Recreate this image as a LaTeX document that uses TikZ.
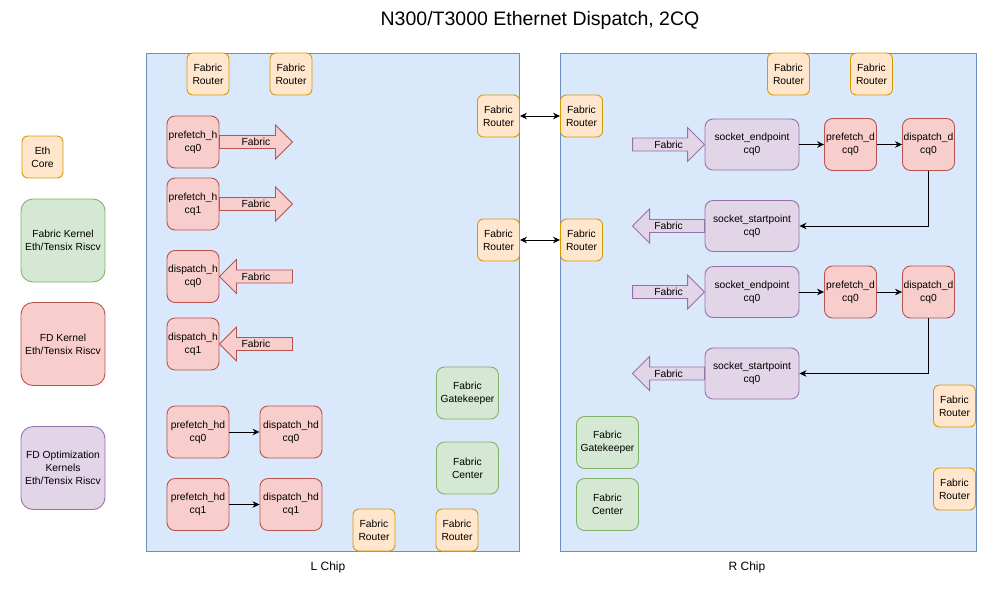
\documentclass[tikz,border=0pt]{standalone}
\usepackage{fontspec}
\setmainfont{Liberation Sans}
\usepackage{tikz}
\usetikzlibrary{arrows.meta,positioning,calc}

\definecolor{blueF}{HTML}{DAE8FC}   \definecolor{blueD}{HTML}{6C8EBF}
\definecolor{orangeF}{HTML}{FFE6CC} \definecolor{orangeD}{HTML}{D79B00}
\definecolor{greenF}{HTML}{D5E8D4}  \definecolor{greenD}{HTML}{82B366}
\definecolor{redF}{HTML}{F8CECC}    \definecolor{redD}{HTML}{B85450}
\definecolor{purpleF}{HTML}{E1D5E7} \definecolor{purpleD}{HTML}{9673A6}

\newcommand{\boxfont}{\fontsize{10.3}{12.7}\selectfont}

\tikzset{
  box/.style={draw, rounded corners=8pt, align=center, inner sep=0pt, line width=0.9pt, font=\boxfont},
  router/.style={box, fill=orangeF, draw=orangeD, minimum width=42pt, minimum height=42pt, rounded corners=6pt},
  fabk/.style={box, fill=greenF, draw=greenD},
  fdk/.style={box, fill=redF, draw=redD},
  optk/.style={box, fill=purpleF, draw=purpleD},
  sq/.style={minimum width=52pt, minimum height=52pt},
  wide/.style={minimum width=62pt, minimum height=52pt},
  sock/.style={minimum width=94pt, minimum height=51pt},
  legbox/.style={minimum width=84pt, minimum height=83pt, rounded corners=12pt},
  chip/.style={draw=blueD, fill=blueF, line width=0.9pt, inner sep=0pt},
  chiplabel/.style={font=\fontsize{12}{14}\selectfont, inner sep=0pt},
  fabred/.style={fill=redF, draw=redD, line width=0.9pt},
  fabpurple/.style={fill=purpleF, draw=purpleD, line width=0.9pt},
  fablabel/.style={font=\boxfont, inner sep=0pt},
  conn/.style={-{Stealth[length=7pt,width=6.5pt]}, line width=0.8pt},
  link/.style={{Stealth[length=7pt,width=6.5pt]}-{Stealth[length=7pt,width=6.5pt]}, line width=0.8pt}
}

% block arrow: style, tail, tip, label name
\newcommand{\fabarrow}[4]{%
  \draw[#1] ($(#2)+(0,-6.5)$) -- ($(#3)!17pt!(#2)+(0,-6.5)$) -- ($(#3)!17pt!(#2)+(0,-17)$) -- (#3)
    -- ($(#3)!17pt!(#2)+(0,17)$) -- ($(#3)!17pt!(#2)+(0,6.5)$) -- ($(#2)+(0,6.5)$) -- cycle;
  \node[fablabel] (#4) at ($(#2)!.5!(#3)$) {Fabric};}

\begin{document}
\begin{tikzpicture}[x=1pt, y=-1pt]
\useasboundingbox (0,0) rectangle (1008,600);
\node[font=\fontsize{19.5}{23}\selectfont] (title) at (540,20) {N300/T3000 Ethernet Dispatch, 2CQ};

% legend
\node[box, fill=orangeF, draw=orangeD, minimum width=41pt, minimum height=42pt, rounded corners=6pt] (ethcore) at (42.5,157) {Eth\\Core};
\node[fabk, legbox] (lgfab) at (63,240.5) {Fabric Kernel\\Eth/Tensix Riscv};
\node[fdk, legbox] (lgfd) at (63,344) {FD Kernel\\Eth/Tensix Riscv};
\node[optk, legbox] (lgopt) at (63,468) {FD Optimization\\Kernels\\Eth/Tensix Riscv};

% chips
\node[chip, minimum width=373pt, minimum height=498pt] (lchip) at (332.5,302) {};
\node[chip, minimum width=416pt, minimum height=498pt] (rchip) at (768,302) {};
\node[chiplabel] (llab) at (328,567) {L Chip};
\node[chiplabel] (rlab) at (747,567) {R Chip};

\foreach \n/\x/\y in {lrt1/208/74, lrt2/291/74, lrt3/498.5/116, lrt4/498.5/240, lrt5/374/530, lrt6/457/530,
                      rrt1/581.5/116, rrt2/581.5/240, rrt3/788.5/74, rrt4/871.5/74, rrt5/954.5/406, rrt6/954.5/489}
  \node[router] (\n) at (\x,\y) {Fabric\\Router};
\draw[link] (lrt3) -- (rrt1); \draw[link] (lrt4) -- (rrt2);

% L chip
\foreach \i/\y in {0/142,1/204} {
  \node[fdk, sq] (pfh\i) at (193,\y) {prefetch\_h\\cq\i};
  \coordinate (pft\i) at ($(pfh\i.east)+(73,0)$);
  \fabarrow{fabred}{pfh\i.east}{pft\i}{pfl\i}
}
\foreach \i/\y in {0/276.5,1/344} {
  \node[fdk, sq] (dph\i) at (193,\y) {dispatch\_h\\cq\i};
  \coordinate (dpt\i) at ($(dph\i.east)+(73,0)$);
  \fabarrow{fabred}{dpt\i}{dph\i.east}{dpl\i}
}
\foreach \i/\y in {0/432,1/504.5} {
  \node[fdk, wide] (pfhd\i) at (198,\y) {prefetch\_hd\\cq\i};
  \node[fdk, wide] (dphd\i) at (291,\y) {dispatch\_hd\\cq\i};
  \draw[conn] (pfhd\i) -- (dphd\i);
}
\node[fabk, wide] (lgk) at (467.5,393) {Fabric\\Gatekeeper};
\node[fabk, wide] (lctr) at (467.5,468) {Fabric\\Center};

% R chip
\foreach \i/\y in {0/144.5,1/292} {
  \node[optk, sock] (sep\i) at (752,\y) {socket\_endpoint\\cq0};
  \node[fdk, sq] (pfd\i) at (850.5,\y) {prefetch\_d\\cq0};
  \node[fdk, sq] (dpd\i) at (928.5,\y) {dispatch\_d\\cq0};
  \node[optk, sock] (ssp\i) at (752,\y+81.5) {socket\_startpoint\\cq0};
  \draw[conn] (sep\i) -- (pfd\i); \draw[conn] (pfd\i) -- (dpd\i);
  \draw[conn] (dpd\i.south) |- (ssp\i.east);
  \coordinate (set\i) at ($(sep\i.west)+(-72,0)$);
  \coordinate (sst\i) at ($(ssp\i.west)+(-72,0)$);
  \fabarrow{fabpurple}{set\i}{sep\i.west}{sel\i}
  \fabarrow{fabpurple}{ssp\i.west}{sst\i}{ssl\i}
}
\node[fabk, wide] (rgk) at (607.5,442.5) {Fabric\\Gatekeeper};
\node[fabk, wide] (rctr) at (607.5,504.5) {Fabric\\Center};
\end{tikzpicture}
\end{document}
